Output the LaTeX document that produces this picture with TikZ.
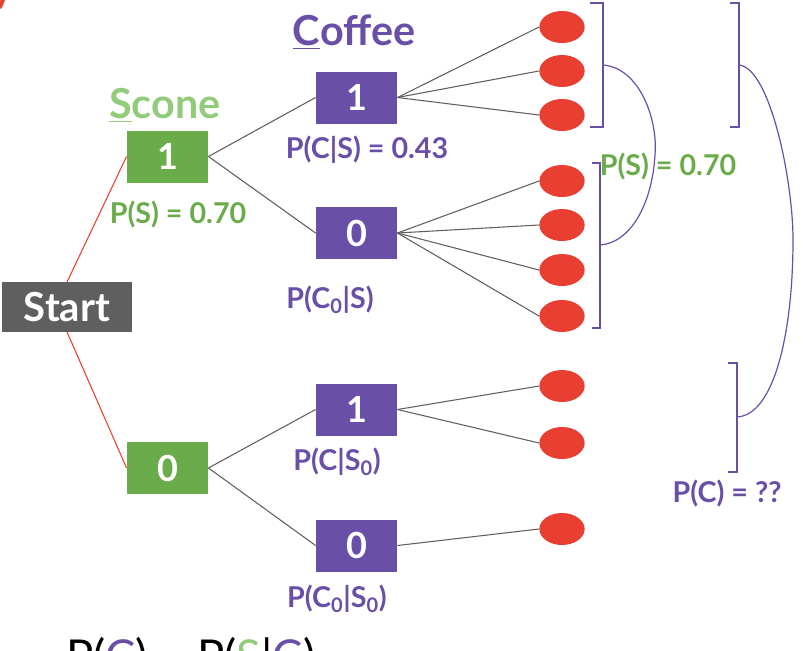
\documentclass[tikz,border=0pt]{standalone}
\usepackage{fontspec}
\usetikzlibrary{shapes.geometric}
\setmainfont{Lato}
\definecolor{pur}{HTML}{6A4FA8}
\definecolor{grn}{HTML}{6AAB4A}
\definecolor{lgrn}{HTML}{92CB7A}
\definecolor{rd}{HTML}{E93F33}
\definecolor{gry}{HTML}{5F5F5F}
\begin{document}
\begin{tikzpicture}[x=0.75pt,y=-0.75pt,
 box/.style={draw=none,minimum width=61pt,minimum height=39pt,inner sep=0pt,text=white,font=\fontsize{27}{29}\bfseries\selectfont},
 pbox/.style={box,fill=pur},
 gbox/.style={box,fill=grn},
 leaf/.style={ellipse,fill=rd,minimum width=34pt,minimum height=24pt,inner sep=0pt},
 lab/.style={font=\fontsize{21.5}{23}\bfseries\selectfont,inner sep=0pt},
 edge/.style={draw=gry,line width=0.8pt},
 br/.style={draw=pur,line width=0.9pt}]
\useasboundingbox (0,0) rectangle (803,650);
\clip (0,0) rectangle (803,650);
\node[text=rd,font=\fontsize{30}{32}\bfseries\selectfont,anchor=east] (ttl) at (18,-4) {y};
\node[box,fill=gry,minimum width=97pt,minimum height=37pt,font=\fontsize{30}{32}\bfseries\selectfont] (start) at (67,307) {Start};
\node[gbox] (s1) at (167.5,156.5) {1};
\node[gbox] (s0) at (167.5,468) {0};
\node[pbox] (c11) at (356.5,97.5) {1};
\node[pbox] (c10) at (356.5,233) {0};
\node[pbox] (c01) at (356.5,409.5) {1};
\node[pbox] (c00) at (356.5,545.5) {0};
\node[lab,text=lgrn,font=\fontsize{31}{33}\bfseries\selectfont] (scone) at (165,105) {\underline{S}cone};
\node[lab,text=pur,font=\fontsize{31}{33}\bfseries\selectfont] (coffee) at (354,32) {\underline{C}offee};
\node[lab,text=grn] (ps) at (178,215) {P(S) = 0.70};
\node[lab,text=pur] (l1) at (367,150) {P(C|S) = 0.43};
\node[lab,text=pur] (l2) at (330,300) {P(C\textsubscript{0}|S)};
\node[lab,text=pur] (l3) at (337,462) {P(C|S\textsubscript{0})};
\node[lab,text=pur] (l4) at (337,599) {P(C\textsubscript{0}|S\textsubscript{0})};
\foreach \n/\y in {a/27,b/71,c/115,d/181,e/225,f/270,g/316,h/386,i/443,j/529}
  \node[leaf] (\n) at (562,\y) {};
\draw[draw=rd,line width=0.8pt] (start.north) -- (s1.west);
\draw[draw=rd,line width=0.8pt] (start.south) -- (s0.west);
\draw[edge] (s1.east) -- (c11.west);
\draw[edge] (s1.east) -- (c10.west);
\draw[edge] (s0.east) -- (c01.west);
\draw[edge] (s0.east) -- (c00.west);
\foreach \n in {a,b,c} \draw[edge] (c11.east) -- (\n.west);
\foreach \n in {d,e,f,g} \draw[edge] (c10.east) -- (\n.west);
\foreach \n in {h,i} \draw[edge] (c01.east) -- (\n.west);
\draw[edge] (c00.east) -- (j.west);
% brackets
\draw[br] (590,3) -- (603,3) -- (603,127) -- (590,127);
\draw[br] (592,163) -- (600,163) -- (600,328) -- (592,328);
\draw[br] (603,65) .. controls (640,68) and (658,120) .. (655,155) .. controls (652,205) and (630,243) .. (600,245);
\node[lab,text=grn] (ps2) at (668,167) {P(S) = 0.70};
\draw[br] (730,3) -- (739,3) -- (739,127) -- (730,127);
\draw[br] (728,363) -- (737,363) -- (737,472) -- (728,472);
\draw[br] (739,65) .. controls (770,68) and (793,180) .. (793,240) .. controls (793,330) and (775,415) .. (737,417);
\node[lab,text=pur] (pc) at (727,494) {P(C) = ??};
\node[anchor=base west,inner sep=0pt,font=\fontsize{34}{36}\selectfont] (eq) at (66,672) {P(\textcolor{pur}{C}) = P(\textcolor{lgrn}{S}|\textcolor{pur}{C})};
\end{tikzpicture}
\end{document}
